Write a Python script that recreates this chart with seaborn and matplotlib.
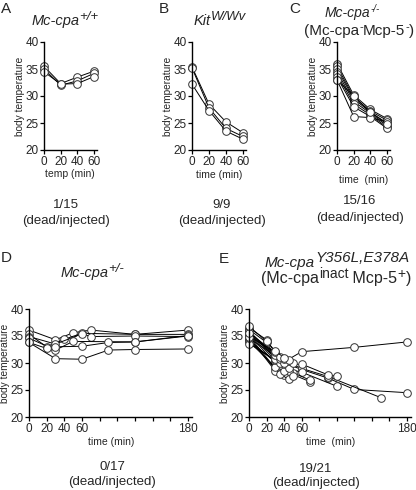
import pandas as pd
import matplotlib
matplotlib.use('Agg')
import matplotlib.pyplot as plt
import seaborn as sns

# panel A, B, C: four time points
t_short = [0, 20, 40, 60]
a_temps = [[35.5, 32.3, 33.5, 34.6],
           [35.0, 32.0, 32.8, 34.2],
           [34.5, 32.2, 32.3, 33.6]]
b_temps = [[35.4, 28.5, 25.2, 23.2],
           [35.2, 27.8, 24.0, 22.5],
           [32.2, 27.3, 23.5, 22.0]]
c_temps = [[36.0, 30.2, 27.5, 25.8],
           [35.5, 29.8, 27.2, 25.5],
           [35.0, 29.5, 27.0, 25.0],
           [34.5, 29.0, 26.8, 24.5],
           [34.0, 28.5, 26.5, 24.2],
           [33.5, 28.0, 26.2, 24.0],
           [33.0, 26.2, 26.0, 25.2],
           [33.0, 30.0, 27.0, 24.8]]

# panel D: heterozygous mice, irregular sampling
d_times = [[0, 30, 50, 70, 120, 180],
           [0, 20, 40, 60, 120, 180],
           [0, 30, 60, 70, 120, 180],
           [0, 30, 50, 120, 180],
           [0, 20, 30, 60, 90, 120, 180],
           [0, 30, 60, 90, 120, 180]]
d_temps = [[36.1, 34.3, 35.6, 36.1, 35.3, 36.1],
           [35.3, 33.0, 34.4, 35.5, 35.3, 35.3],
           [34.9, 33.5, 35.4, 34.9, 35.0, 34.9],
           [34.6, 32.4, 34.0, 33.9, 35.1],
           [33.8, 32.7, 33.0, 33.1, 33.8, 33.9, 35.0],
           [33.8, 30.8, 30.7, 32.4, 32.5, 32.6]]

# panel E: point mutant mice
e_times = [[0, 20, 30, 40, 60, 120, 180],
           [0, 20, 30, 40, 60, 90, 120, 180],
           [0, 30, 45, 60, 90, 150],
           [0, 30, 45, 60, 90, 100],
           [0, 30, 40, 60, 100],
           [0, 30, 45, 70],
           [0, 30, 40, 50, 70],
           [0, 35, 45],
           [0, 35, 45, 50],
           [0, 30, 40],
           [0, 30, 40],
           [0, 35, 45],
           [0, 30, 40],
           [0, 30, 45],
           [0, 35, 40],
           [0, 30, 40, 50],
           [0, 30],
           [0, 35, 45],
           [0, 20, 30, 40]]
e_temps = [[36.5, 34.3, 31.8, 30.2, 32.1, 32.9, 33.9],
           [36.2, 33.8, 31.2, 30.0, 28.8, 27.2, 25.1, 24.5],
           [35.8, 31.5, 30.0, 29.0, 27.5, 23.6],
           [35.5, 30.5, 29.5, 29.8, 27.8, 27.6],
           [35.2, 30.0, 29.0, 28.3, 25.7],
           [35.0, 29.0, 28.2, 26.5],
           [34.8, 28.5, 27.8, 28.2, 26.8],
           [34.5, 28.0, 27.0],
           [34.2, 29.5, 28.5, 27.6],
           [34.0, 29.2, 28.6],
           [33.8, 30.5, 29.8],
           [33.6, 30.0, 29.0],
           [35.8, 31.0, 30.5],
           [36.0, 30.8, 30.3],
           [34.6, 30.8, 30.0],
           [35.3, 31.5, 30.8, 30.0],
           [34.9, 32.0],
           [35.6, 31.2, 30.5],
           [36.8, 34.0, 32.2, 31.0]]


def to_long(times, temps):
    rows = []
    for i, (ts, ys) in enumerate(zip(times, temps)):
        for t, y in zip(ts, ys):
            rows.append({'mouse': i, 'time': t, 'temp': y})
    return pd.DataFrame(rows)


sns.set_theme(style='ticks')
plt.rcParams['font.family'] = ['Liberation Sans', 'DejaVu Sans']

W, H = 416, 490
fig = plt.figure(figsize=(W / 100, H / 100), dpi=100)
renderer = fig.canvas.get_renderer()


def fx(px):
    return px / W


def fy(py):
    return 1 - py / H


def panel(left_px, top_px, bottom_px, width_px, df, xmax, xticks, xlabels, xlabel, xlabel_y):
    h_px = bottom_px - top_px
    ax = fig.add_axes([fx(left_px), fy(bottom_px), width_px / W, h_px / H])
    sns.lineplot(data=df, x='time', y='temp', units='mouse', estimator=None,
                 color='black', lw=0.7, marker='o', markersize=5.5,
                 markerfacecolor='white', markeredgecolor='#333333',
                 markeredgewidth=0.7, ax=ax, legend=False, clip_on=False)
    ax.set_xlim(0, xmax)
    ax.set_ylim(20, 40)
    ax.set_yticks([20, 25, 30, 35, 40])
    ax.set_xticks(xticks)
    ax.set_xticklabels(xlabels)
    ax.tick_params(labelsize=8.5, length=3, width=0.9, pad=1, color='black')
    for s in ['top', 'right']:
        ax.spines[s].set_visible(False)
    for s in ['left', 'bottom']:
        ax.spines[s].set_linewidth(1.0)
        ax.spines[s].set_color('black')
    ax.set_ylabel('body temperature', fontsize=7.3, va='center')
    ax.yaxis.set_label_coords(-24 / width_px, 0.5)
    ax.set_xlabel(xlabel, fontsize=7.5, va='center')
    ax.xaxis.set_label_coords(0.5, -(xlabel_y - bottom_px) / h_px)
    ax.set_facecolor('white')
    return ax


def rich(cx, baseline, parts):
    # parts: (text, size, italic, rise in px)
    widths = []
    for s, size, it, rise in parts:
        t = fig.text(0, 0, s, fontsize=size, style='italic' if it else 'normal')
        widths.append(t.get_window_extent(renderer).width)
        t.remove()
    x = cx - sum(widths) / 2
    for (s, size, it, rise), w in zip(parts, widths):
        fig.text(fx(x), fy(baseline - rise), s, fontsize=size,
                 style='italic' if it else 'normal', ha='left', va='baseline')
        x += w


short_lab = ['0', '20', '40', '60']
long_ticks = list(range(0, 181, 20))
long_lab = ['0', '20', '40', '60', '', '', '', '', '', '180']

panel(44, 42, 150, 52.5, to_long([t_short] * 3, a_temps), 63, t_short, short_lab, 'temp (min)', 174)
panel(192, 42, 150, 53.5, to_long([t_short] * 3, b_temps), 63, t_short, short_lab, 'time (min)', 175)
panel(337, 42, 150, 52.5, to_long([t_short] * 8, c_temps), 63, t_short, short_lab, 'time  (min)', 180)
panel(29, 309, 417, 163.4, to_long(d_times, d_temps), 185, long_ticks, long_lab, 'time (min)', 442)
panel(249, 309, 417, 162.4, to_long(e_times, e_temps), 185, long_ticks, long_lab, 'time  (min)', 442)

# panel letters
for letter, x, y in [('A', 1, 13), ('B', 159, 13), ('C', 289, 13), ('D', 1, 262), ('E', 219, 263)]:
    fig.text(fx(x), fy(y), letter, fontsize=11, va='baseline', ha='left')

# titles
rich(65, 25, [('Mc-cpa', 10.5, True, 0), ('+/+', 9.5, True, 5)])
rich(220, 25, [('Kit', 10.5, True, 0), ('W/Wv', 9.5, True, 5)])
rich(352, 17, [('Mc-cpa', 10, True, 0), ('-/-', 7, True, 5)])
rich(359, 35, [('(Mc-cpa', 11, False, 0), ('-', 8, False, 5), ('Mcp-5', 11, False, 0),
               ('-', 8, False, 5), (')', 11, False, 0)])
rich(92, 277, [('Mc-cpa', 10.5, True, 0), ('+/-', 9.5, True, 5)])
rich(337, 267, [('Mc-cpa', 11, True, 0), ('Y356L,E378A', 11, True, 5)])
rich(336, 283, [('(Mc-cpa', 11.5, False, 0), ('inact', 10, False, 5), (' Mcp-5', 11.5, False, 0),
                ('+', 10, False, 5), (')', 11.5, False, 0)])

# dead / injected counts
for txt, x, y, y2 in [('1/15', 66, 205, 221), ('9/9', 222, 205, 221), ('15/16', 360, 201, 218),
                      ('0/17', 112, 467, 482), ('19/21', 316, 469, 483)]:
    fig.text(fx(x), fy(y), txt, fontsize=9.5, ha='center', va='center')
    fig.text(fx(x), fy(y2), '(dead/injected)', fontsize=9.5, ha='center', va='center')

fig.savefig('out.png', dpi=100, facecolor='white')
